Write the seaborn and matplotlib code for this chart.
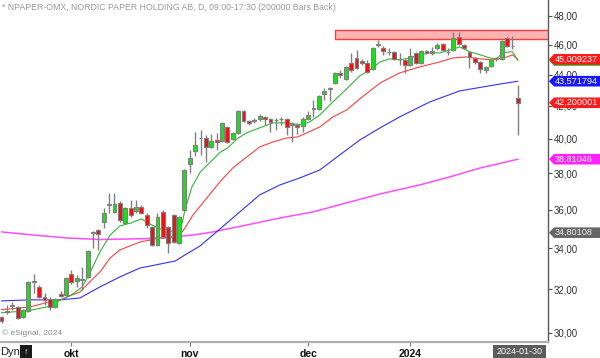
import numpy as np
import pandas as pd
import matplotlib
matplotlib.use("Agg")
import matplotlib.pyplot as plt
import seaborn as sns
from matplotlib.patches import Polygon, Rectangle
from matplotlib.transforms import IdentityTransform
from matplotlib.ticker import FixedLocator, NullLocator, FixedFormatter

# ---------------- data ----------------
opens = [30.71, 30.94, 31.22, 31.17, 30.71, 30.99, 32.35, 32.11, 31.64, 31.55,
         31.17, 31.78, 31.73, 32.73, 32.40, 32.44, 32.59, 34.78, 34.94, 35.36,
         36.27, 35.89, 36.38, 35.30, 36.10, 35.94, 36.16, 35.73, 35.09, 34.17,
         35.89, 35.09, 35.73, 34.27, 35.99, 38.54, 39.29, 40.02, 40.05, 39.52,
         39.93, 39.87, 40.72, 39.99, 40.36, 41.69, 41.08, 41.08, 41.20, 41.32,
         41.20, 41.14, 41.17, 41.20, 40.84, 40.84, 40.78, 41.20, 41.88, 41.82,
         42.76, 43.08, 43.46, 44.11, 43.71, 44.77, 45.10, 44.91, 44.77, 44.37,
         45.98, 45.78, 45.51, 45.51, 45.04, 44.97, 44.64, 45.44, 44.77, 45.57,
         45.44, 45.78, 46.05, 45.51, 45.64, 46.53, 45.98, 45.51, 45.10, 44.84,
         44.31, 44.57, 45.04, 45.04, 46.46, 45.91, 42.51]
highs = [30.75, 31.27, 31.41, 31.22, 31.08, 32.40, 32.73, 32.20, 31.82, 31.64,
         31.60, 31.91, 32.59, 32.93, 32.68, 33.07, 33.92, 34.88, 34.98, 36.10,
         36.92, 36.92, 36.45, 36.16, 36.54, 36.54, 36.27, 35.83, 35.15, 35.83,
         35.99, 35.15, 35.78, 35.67, 38.25, 39.35, 40.42, 40.54, 40.20, 40.30,
         40.36, 41.02, 40.78, 40.42, 41.75, 41.75, 41.14, 41.26, 41.50, 41.38,
         41.26, 41.26, 41.32, 41.26, 41.02, 40.96, 41.32, 41.69, 42.38, 42.70,
         43.14, 43.20, 44.18, 44.31, 44.57, 45.44, 45.64, 45.04, 44.97, 45.84,
         46.32, 45.91, 45.78, 45.57, 45.44, 45.04, 45.78, 45.51, 45.64, 45.64,
         45.84, 46.12, 46.12, 45.78, 46.88, 46.88, 46.05, 45.57, 45.17, 44.91,
         44.57, 45.04, 45.17, 46.32, 46.53, 46.60, 43.33]
lows = [30.44, 30.85, 31.04, 30.62, 30.67, 30.94, 31.82, 31.60, 31.27, 31.04,
        31.13, 31.64, 31.69, 32.25, 32.11, 31.97, 32.54, 34.02, 33.92, 35.04,
        35.83, 35.83, 35.36, 35.25, 35.62, 35.83, 35.78, 35.04, 34.12, 34.12,
        34.53, 33.77, 34.27, 34.22, 35.94, 38.03, 38.98, 39.06, 38.65, 39.45,
        39.35, 39.82, 39.76, 39.93, 40.30, 41.02, 40.84, 40.96, 41.08, 40.84,
        40.42, 40.54, 40.84, 40.24, 39.82, 40.30, 40.42, 41.14, 41.32, 41.76,
        42.38, 42.32, 43.40, 43.78, 43.65, 44.18, 44.37, 44.64, 44.11, 44.31,
        45.84, 45.31, 45.31, 44.97, 44.64, 44.11, 44.57, 44.70, 44.70, 45.37,
        45.31, 45.64, 45.57, 45.31, 45.57, 45.98, 45.71, 44.44, 44.70, 44.11,
        44.11, 44.51, 44.91, 44.97, 45.84, 45.71, 40.24]
closes = [30.53, 30.99, 31.22, 30.67, 31.04, 32.35, 32.40, 31.64, 31.50, 31.17,
          31.55, 31.69, 32.54, 32.35, 32.54, 32.47, 33.87, 34.84, 34.73, 35.83,
          36.27, 36.33, 35.46, 36.10, 35.73, 36.16, 35.83, 35.20, 34.17, 35.62,
          34.58, 34.27, 34.32, 35.62, 38.20, 38.88, 39.64, 40.05, 39.52, 39.87,
          39.82, 40.96, 39.82, 40.36, 41.69, 41.08, 40.96, 41.14, 41.38, 41.20,
          40.99, 41.14, 41.20, 40.72, 40.84, 40.72, 41.20, 41.45, 41.82, 42.63,
          42.95, 43.14, 44.11, 43.98, 44.51, 44.31, 44.44, 44.77, 44.18, 45.78,
          46.02, 45.57, 45.51, 45.04, 45.04, 44.64, 45.24, 44.77, 45.57, 45.44,
          45.57, 45.98, 45.64, 45.51, 46.46, 46.05, 45.78, 45.17, 44.84, 44.37,
          44.51, 44.97, 45.04, 46.25, 45.91, 45.91, 42.20]

holidays = ["2023-12-25", "2023-12-26", "2024-01-01"]
dates = pd.bdate_range("2023-09-13", "2024-01-30", freq="C", holidays=holidays)
month_names = ["okt", "nov", "dec", "2024"]

green_idx = [0, 5, 9, 11, 13, 15, 16.5, 18.3, 20.2, 22, 24, 26, 27.6, 29.5, 31.3, 33.2,
             34.1, 35.4, 37, 39, 40.6, 42, 43, 44, 45.6, 48, 50.5, 53, 55.5, 57.3, 59.2,
             61, 62.6, 66.6, 68.5, 70.4, 72.2, 74, 76, 77.8, 79.6, 81.5, 83.4, 85.2,
             87.1, 89, 90.8, 92, 93.2, 94.5, 95, 96]
green_ma = [30.90, 31.00, 31.20, 31.50, 31.73, 32.11, 32.83, 33.82, 34.68, 35.15, 35.30,
            35.52, 35.25, 34.99, 34.89, 34.84, 35.99, 37.25, 38.10, 38.70, 39.20, 39.46,
            39.75, 40.05, 40.36, 40.66, 40.96, 40.96, 40.84, 41.02, 41.45, 42.06, 42.57,
            43.91, 44.31, 44.84, 45.04, 44.97, 45.10, 45.31, 45.44, 45.44, 45.64, 45.84,
            45.51, 45.31, 45.10, 45.04, 45.44, 45.51, 45.51, 44.93]

red_idx = [0, 5.3, 9, 11, 12.7, 14.6, 16.4, 18.3, 20.2, 22, 25.7, 29.5, 33, 34.1, 35.6,
           38.2, 40.6, 43, 45.6, 48, 50.5, 53, 55, 56.8, 59.2, 61.6, 64.2, 66.6, 70.4,
           74, 77.8, 81.5, 83.9, 86.5, 89, 91.4, 94, 95, 96]
red_ma = [31.04, 31.17, 31.41, 31.50, 31.69, 31.87, 32.35, 32.83, 33.52, 33.92, 34.32,
          34.53, 34.63, 35.04, 35.73, 36.65, 37.53, 38.31, 38.94, 39.52, 39.82, 40.05,
          40.11, 40.36, 40.72, 41.32, 41.76, 42.44, 43.46, 44.11, 44.51, 44.84, 45.10,
          45.17, 45.04, 44.97, 45.17, 45.31, 45.01]

blue_idx = [0, 5.3, 11, 14.6, 18.3, 22, 25.7, 29.5, 32.3, 34.1, 36.9, 40.6, 44.3, 48,
            51.8, 55.5, 59.2, 62.9, 66.6, 70.4, 74, 79.6, 85.2, 92.7, 96]
blue_ma = [31.45, 31.50, 31.50, 31.59, 32.11, 32.59, 33.02, 33.22, 33.37, 33.67, 34.12,
           34.99, 35.89, 36.81, 37.36, 37.75, 38.20, 39.06, 39.93, 40.66, 41.32, 42.25,
           42.95, 43.39, 43.57]

magenta_idx = [0, 5.9, 12.2, 18.3, 24.4, 30.8, 36.9, 39.3, 45.6, 51.8, 57.9, 64.2, 70.4,
               77.8, 83.4, 89, 96]
magenta_ma = [34.84, 34.68, 34.53, 34.45, 34.48, 34.53, 34.73, 34.84, 35.20, 35.57, 35.89,
              36.38, 36.86, 37.36, 37.81, 38.31, 38.81]

zone_start = 62
zone_low, zone_high = 46.37, 47.01

tag_values = [45.009237, 43.571794, 42.200001, 38.81046, 34.80108]
tag_texts = ["45,009237", "43,571794", "42,200001", "38,81046", "34,80108"]
ytick_values = [30, 32, 34, 36, 38, 40, 42, 44, 46, 48]

# ---------------- style ----------------
sns.set_style("white")
plt.rcParams['font.family'] = ['Liberation Sans', 'DejaVu Sans']

W, H = 600, 358
fig = plt.figure(figsize=(W / 100, H / 100), dpi=100)
ax = fig.add_axes([0, 16 / H, 548 / W, 342 / H])
ax.set_yscale('log')
ax.set_ylim(29.59, 49.15)
ax.set_xlim(-0.28, 101.6)

# resistance zone
ax.fill_between([zone_start, 101.6], zone_low, zone_high, color='#ffb4b4', zorder=1, lw=0)
ax.plot([zone_start, 101.6], [zone_low, zone_low], color='#ff3a3a', lw=1, zorder=1)
ax.plot([zone_start, 101.6], [zone_high, zone_high], color='#ff3a3a', lw=1, zorder=1)
ax.plot([zone_start, zone_start], [zone_low, zone_high], color='#ff3a3a', lw=1, zorder=1)

# moving averages
frames = []
for name, ix, vals in [("ma200", magenta_idx, magenta_ma), ("ma50", blue_idx, blue_ma),
                       ("ma20", red_idx, red_ma), ("ma10", green_idx, green_ma)]:
    frames.append(pd.DataFrame({"idx": ix, "value": vals, "series": name}))
ma_df = pd.concat(frames, ignore_index=True)
palette = {"ma200": "#ff4dff", "ma50": "#3030ff", "ma20": "#ff4040", "ma10": "#33b533"}
widths = {"ma200": 1.1, "ma50": 0.8, "ma20": 0.8, "ma10": 0.8}
for name in ["ma200", "ma50", "ma20", "ma10"]:
    sns.lineplot(data=ma_df[ma_df.series == name], x="idx", y="value", color=palette[name],
                 estimator=None, sort=False, legend=False, linewidth=widths[name], ax=ax,
                 zorder=2)

# candles
idx = np.arange(len(closes))
o = np.array(opens); c = np.array(closes); hi = np.array(highs); lo = np.array(lows)
ax.vlines(idx, lo, hi, color='#808080', lw=1, zorder=3)
colors = np.where(c > o, '#19e019', np.where(c < o, '#ee1111', '#808080'))
bottoms = np.minimum(o, c)
heights = np.maximum(np.abs(c - o), 0.02)
ax.bar(idx, heights, bottom=bottoms, width=0.72, color=colors, edgecolor='#808080',
       linewidth=0.8, zorder=4)

# axes styling
ax.yaxis.tick_right()
ax.yaxis.set_major_locator(FixedLocator(ytick_values))
ax.yaxis.set_major_formatter(FixedFormatter([f"{v:.2f}".replace('.', ',') for v in ytick_values]))
ax.yaxis.set_minor_locator(NullLocator())
ax.tick_params(axis='y', which='major', right=True, left=False, length=3, width=0.8,
               color='#505050', labelsize=7, labelcolor='#333333', pad=1)

month_pos = [int(np.where((dates.month == m) & (dates.year == y))[0][0])
             for y, m in [(2023, 10), (2023, 11), (2023, 12), (2024, 1)]]
ax.set_xticks(month_pos)
ax.set_xticklabels(month_names, fontweight='bold', fontsize=7.5, color='#111111')
ax.tick_params(axis='x', bottom=True, length=3, width=0.8, color='#808080', pad=2)
ax.set_xlabel(""); ax.set_ylabel("")
for s in ['left', 'top']:
    ax.spines[s].set_visible(False)
ax.spines['right'].set_color('#5a5a5a'); ax.spines['right'].set_linewidth(1)
ax.spines['bottom'].set_color('#b0b0b0'); ax.spines['bottom'].set_linewidth(1.6)

# texts
fig.text(2 / W, 1 - 8 / H, "* NPAPER-OMX, NORDIC PAPER HOLDING AB, D, 09:00-17:30 (200000 Bars Back)",
         fontsize=6.3, color='#9a9a9a', va='center', ha='left')
fig.text(2 / W, 1 - 333 / H, "© eSignal, 2024", fontsize=6, color='#8a8a8a', va='center')
fig.text(0 / W, 1 - 352 / H, "Dyn", fontsize=8, color='#222222', va='center')
fig.add_artist(Rectangle((20, H - 358), 12, 13, transform=IdentityTransform(),
                         facecolor='#1a1a1a', edgecolor='none', zorder=5))
fig.text(26 / W, 1 - 352 / H, "f", fontsize=6, color='#aaaaaa', va='center', ha='center', zorder=6)
fig.add_artist(Rectangle((493, H - 358), 53, 13, transform=IdentityTransform(),
                         facecolor='#5c5c5c', edgecolor='none', zorder=5))
fig.text(519.5 / W, 1 - 351.5 / H, "2024-01-30", fontsize=6.5, color='white', va='center',
         ha='center', zorder=6)

# value tags on the right
def tag(price, bg, fg, text, z):
    yd = ax.transData.transform((0, price))[1]
    h = 5.3
    pts = [(549, yd), (554, yd + h), (600, yd + h), (600, yd - h), (554, yd - h)]
    fig.add_artist(Polygon(pts, closed=True, transform=IdentityTransform(), facecolor=bg,
                           edgecolor='none', zorder=z))
    if text:
        fig.text(555 / W, yd / H, text, fontsize=6.6, color=fg, va='center', ha='left',
                 zorder=z + 0.5)

tag(44.93, '#22b022', 'white', "", 5)
tag(tag_values[0], '#ff1a1a', 'white', tag_texts[0], 6)
tag(tag_values[1], '#1515ff', 'white', tag_texts[1], 6)
tag(tag_values[2], '#ff1a1a', 'white', tag_texts[2], 6)
tag(tag_values[3], '#ff22ff', 'white', tag_texts[3], 6)
tag(tag_values[4], '#666666', '#eeeeee', tag_texts[4], 6)

fig.savefig("out.png", dpi=100, facecolor='white')
